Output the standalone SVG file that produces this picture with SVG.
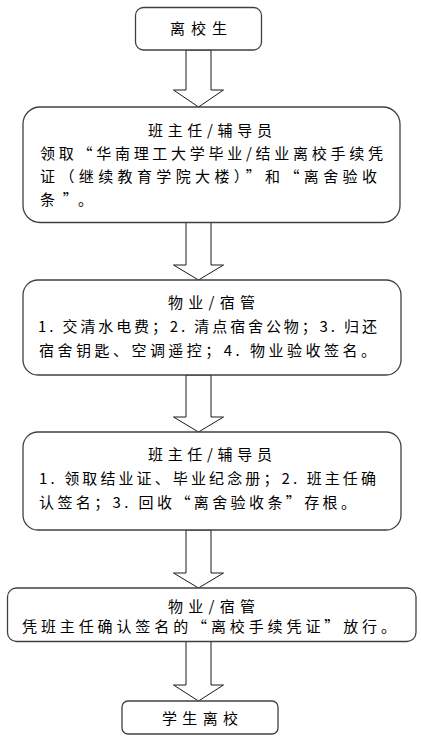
<svg xmlns="http://www.w3.org/2000/svg" width="421" height="740" viewBox="0 0 421 740">
<style>
.box{fill:#fff;stroke:#404040;stroke-width:1.3}
.arr{fill:#fff;stroke:#1a1a1a;stroke-width:1}
text{font-family:"Noto Sans CJK SC","Noto Sans",sans-serif;font-size:15px;fill:#000}
</style>
<rect width="421" height="740" fill="#fff"/>
<g id="connectors">
<polygon class="arr" points="186,50 211,50 211,90 223.5,90 198.5,107 173.5,90 186,90"/>
<polygon class="arr" points="186,222.5 211,222.5 211,265 223.5,265 198.5,280 173.5,265 186,265"/>
<polygon class="arr" points="186,375 211,375 211,417 223.5,417 198.5,432 173.5,417 186,417"/>
<polygon class="arr" points="186,530 211,530 211,573 223.5,573 198.5,588 173.5,573 186,573"/>
<polygon class="arr" points="186,641.5 211,641.5 211,685 223.5,685 198.5,701 173.5,685 186,685"/>
</g>
<g id="n1">
<rect class="box" x="135.5" y="7.5" width="126" height="42.5" rx="8"/>
<text x="170" y="33.5" textLength="57" lengthAdjust="spacing">离校生</text>
</g>
<g id="n2">
<rect class="box" x="23" y="107" width="377" height="115.5" rx="17"/>
<text x="148" y="135.5" textLength="124" lengthAdjust="spacing">班主任/辅导员</text>
<text x="40" y="158.5" textLength="343" lengthAdjust="spacing">领取“华南理工大学毕业/结业离校手续凭</text>
<text x="40" y="181.5" textLength="337" lengthAdjust="spacing">证（继续教育学院大楼）”和“离舍验收</text>
<text x="40" y="204.5" textLength="53" lengthAdjust="spacing">条”。</text>
</g>
<g id="n3">
<rect class="box" x="23" y="280" width="378" height="95" rx="15"/>
<text x="168" y="307.5" textLength="87" lengthAdjust="spacing">物业/宿管</text>
<text x="38" y="331.5" textLength="339" lengthAdjust="spacing">1. 交清水电费；2. 清点宿舍公物；3. 归还</text>
<text x="39" y="355.5" textLength="337" lengthAdjust="spacing">宿舍钥匙、空调遥控；4. 物业验收签名。</text>
</g>
<g id="n4">
<rect class="box" x="23" y="432" width="378" height="98" rx="15"/>
<text x="148" y="459.5" textLength="124" lengthAdjust="spacing">班主任/辅导员</text>
<text x="39" y="483.5" textLength="337" lengthAdjust="spacing">1. 领取结业证、毕业纪念册；2. 班主任确</text>
<text x="39" y="507.5" textLength="317" lengthAdjust="spacing">认签名；3. 回收“离舍验收条”存根。</text>
</g>
<g id="n5">
<rect class="box" x="7.5" y="588" width="408.5" height="53.5" rx="9"/>
<text x="168" y="611.5" textLength="87" lengthAdjust="spacing">物业/宿管</text>
<text x="22" y="631.5" textLength="374" lengthAdjust="spacing">凭班主任确认签名的“离校手续凭证”放行。</text>
</g>
<g id="n6">
<rect class="box" x="122" y="701" width="156" height="33" rx="6"/>
<text x="162" y="723.5" textLength="76" lengthAdjust="spacing">学生离校</text>
</g>
</svg>
